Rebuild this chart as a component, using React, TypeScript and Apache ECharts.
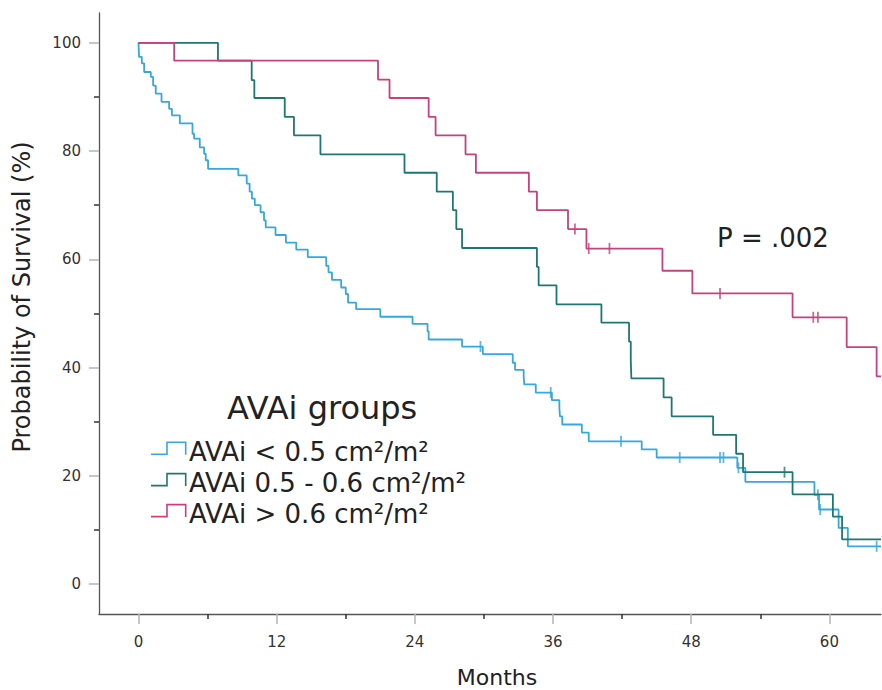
import React, { useEffect, useRef } from "react";
import * as echarts from "echarts";

// ---- data (months, survival %) ----
const blueTime = [0, 0.05, 0.29, 0.49, 1.07, 1.27, 1.5, 2.0, 2.66, 2.9, 3.59, 4.69, 4.83, 5.32, 5.7, 5.84, 6.04, 8.67, 9.4, 9.65, 9.85, 10.1, 10.6, 10.9, 11.05, 11.9, 12.8, 13.7, 14.7, 16.3, 16.5, 16.8, 17.6, 18.0, 18.2, 18.9, 21.0, 23.8, 25.1, 25.2, 28.1, 29.9, 32.5, 32.7, 33.45, 33.5, 34.5, 35.9, 36.55, 36.6, 36.8, 38.5, 39.1, 43.7, 45.0, 52.0, 52.7, 58.7, 59.1, 60.8, 61.6];
const blueSurv = [100, 97.4, 96.2, 94.6, 93.7, 92.1, 90.6, 89.1, 87.8, 86.6, 85.1, 83.2, 82.3, 80.7, 79.5, 78.3, 76.7, 75.5, 74.0, 72.5, 71.2, 70.0, 68.7, 67.2, 65.9, 64.5, 63.1, 61.8, 60.4, 58.8, 57.6, 56.2, 54.8, 53.6, 52.0, 50.8, 49.4, 48.1, 46.7, 45.2, 43.9, 42.5, 40.9, 39.6, 38.3, 36.9, 35.4, 34.0, 32.5, 31.0, 29.5, 28.0, 26.4, 24.9, 23.4, 21.5, 18.9, 16.5, 13.8, 10.4, 7.0];
const blueCensor = [29.7, 35.8, 41.9, 47.0, 50.5, 50.8, 52.1, 59.0, 59.2, 64.1];

const tealTime = [0, 6.9, 9.83, 10.06, 12.7, 13.5, 15.8, 23.1, 25.9, 27.3, 27.6, 28.1, 34.6, 34.75, 36.3, 40.2, 42.6, 42.75, 42.8, 45.6, 46.3, 49.9, 51.9, 52.5, 56.8, 60.3, 61.1];
const tealSurv = [100, 96.7, 93.1, 89.8, 86.3, 82.9, 79.4, 76.0, 72.5, 69.1, 65.6, 62.1, 58.6, 55.2, 51.7, 48.3, 44.8, 41.4, 38.0, 34.5, 31.0, 27.6, 24.1, 20.7, 16.6, 12.5, 8.3];
const tealCensor = [56.1];

const pinkTime = [0, 3.1, 20.8, 21.8, 25.2, 25.8, 28.4, 29.3, 33.9, 34.6, 37.3, 38.9, 45.5, 48.1, 56.8, 61.5, 64.1];
const pinkSurv = [100, 96.7, 93.2, 89.8, 86.3, 82.9, 79.4, 76.0, 72.5, 69.1, 65.6, 62.0, 57.9, 53.7, 49.3, 43.8, 38.4];
const pinkCensor = [37.9, 39.1, 40.9, 50.5, 58.6, 59.0];

const groupNames = ["AVAi < 0.5 cm²/m²", "AVAi 0.5 - 0.6 cm²/m²", "AVAi > 0.6 cm²/m²"];
const groupColors = ["#36a8e0", "#1f7772", "#c6427c"];

const xMajorTicks = [0, 12, 24, 36, 48, 60];
const xMinorTicks = [6, 18, 30, 42, 54];
const yMajorTicks = [0, 20, 40, 60, 80, 100];
const yMinorTicks = [10, 30, 50, 70, 90];

const X_MIN = -3.43;
const X_MAX = 64.48;
const Y_MIN = -5.5;
const Y_MAX = 105.5;

const FONT = '"DejaVu Sans", "Liberation Sans", sans-serif';

function stepValue(times: number[], surv: number[], t: number) {
  let v = surv[0];
  for (let i = 0; i < times.length; i++) {
    if (times[i] <= t) v = surv[i];
  }
  return v;
}

export default function App() {
  const ref = useRef<HTMLDivElement>(null);

  useEffect(() => {
    if (!ref.current) return;
    const chart = echarts.init(ref.current, undefined, { renderer: "svg" });

    const groups = [
      { t: blueTime, s: blueSurv, c: blueCensor },
      { t: tealTime, s: tealSurv, c: tealCensor },
      { t: pinkTime, s: pinkSurv, c: pinkCensor },
    ];

    const series: any[] = [];
    groups.forEach((g, i) => {
      const data = g.t.map((t, k) => [t, g.s[k]]);
      data.push([X_MAX, g.s[g.s.length - 1]]);
      series.push({
        type: "line",
        name: groupNames[i],
        step: "end",
        showSymbol: false,
        symbol: "none",
        data,
        lineStyle: { color: groupColors[i], width: 1.8 },
        itemStyle: { color: groupColors[i] },
        silent: true,
        z: 2 + i,
      });
      series.push({
        type: "scatter",
        name: groupNames[i] + " censored",
        symbol: "rect",
        symbolSize: [1.8, 11],
        data: g.c.map((t) => [t, stepValue(g.t, g.s, t)]),
        itemStyle: { color: groupColors[i] },
        silent: true,
        z: 2 + i,
      });
    });

    const legendRowsY = [451.7, 483, 514];
    const graphics: any[] = [
      {
        type: "text",
        x: 22,
        y: 297,
        rotation: Math.PI / 2,
        style: { text: "Probability of Survival (%)", font: `24px ${FONT}`, fill: "#222", align: "center", verticalAlign: "middle" },
      },
      {
        type: "text",
        x: 497,
        y: 677.5,
        style: { text: "Months", font: `22px ${FONT}`, fill: "#222", align: "center", verticalAlign: "middle" },
      },
      {
        type: "text",
        x: 717,
        y: 238,
        style: { text: "P = .002", font: `26px ${FONT}`, fill: "#222", align: "left", verticalAlign: "middle" },
      },
      {
        type: "text",
        x: 227,
        y: 408,
        style: { text: "AVAi groups", font: `32px ${FONT}`, fill: "#222", align: "left", verticalAlign: "middle" },
      },
    ];
    groupNames.forEach((name, i) => {
      const yc = legendRowsY[i];
      graphics.push({
        type: "polyline",
        shape: { points: [[151, yc + 2.6], [167, yc + 2.6], [167, yc - 9.4], [185.7, yc - 9.4], [185.7, yc + 3]] },
        style: { stroke: groupColors[i], lineWidth: 1.6, fill: null },
      });
      graphics.push({
        type: "text",
        x: 189,
        y: yc,
        style: { text: name, font: `26px ${FONT}`, fill: "#222", align: "left", verticalAlign: "middle" },
      });
    });

    const axisCommon = {
      type: "value",
      splitLine: { show: false },
    };

    chart.setOption({
      animation: false,
      backgroundColor: "#fff",
      grid: { left: 99, top: 13, right: 1, bottom: 76, containLabel: false },
      xAxis: [
        {
          ...axisCommon,
          min: X_MIN,
          max: X_MAX,
          position: "bottom",
          axisLine: { show: true, onZero: false, lineStyle: { color: "#555", width: 1.3 } },
          axisTick: { show: true, customValues: xMajorTicks, length: 10, lineStyle: { color: "#b5b5b5", width: 1.5 } },
          axisLabel: { show: true, customValues: xMajorTicks, margin: 20, fontFamily: FONT, fontSize: 15, color: "#333" },
        },
        {
          ...axisCommon,
          min: X_MIN,
          max: X_MAX,
          position: "bottom",
          axisLine: { show: false, onZero: false },
          axisTick: { show: true, customValues: xMinorTicks, length: 5, lineStyle: { color: "#333", width: 1.5 } },
          axisLabel: { show: false },
        },
      ],
      yAxis: [
        {
          ...axisCommon,
          min: Y_MIN,
          max: Y_MAX,
          position: "left",
          axisLine: { show: true, onZero: false, lineStyle: { color: "#555", width: 1.3 } },
          axisTick: { show: true, customValues: yMajorTicks, length: 10, lineStyle: { color: "#b5b5b5", width: 1.5 } },
          axisLabel: { show: true, customValues: yMajorTicks, margin: 18, fontFamily: FONT, fontSize: 15, color: "#333" },
        },
        {
          ...axisCommon,
          min: Y_MIN,
          max: Y_MAX,
          position: "left",
          axisLine: { show: false, onZero: false },
          axisTick: { show: true, customValues: yMinorTicks, length: 5, lineStyle: { color: "#333", width: 1.5 } },
          axisLabel: { show: false },
        },
      ],
      series,
      graphic: graphics,
    });

    return () => chart.dispose();
  }, []);

  return (
    <div
      ref={ref}
      style={{ position: "absolute", left: 0, top: 0, width: 882, height: 690, background: "#fff" }}
    />
  );
}
